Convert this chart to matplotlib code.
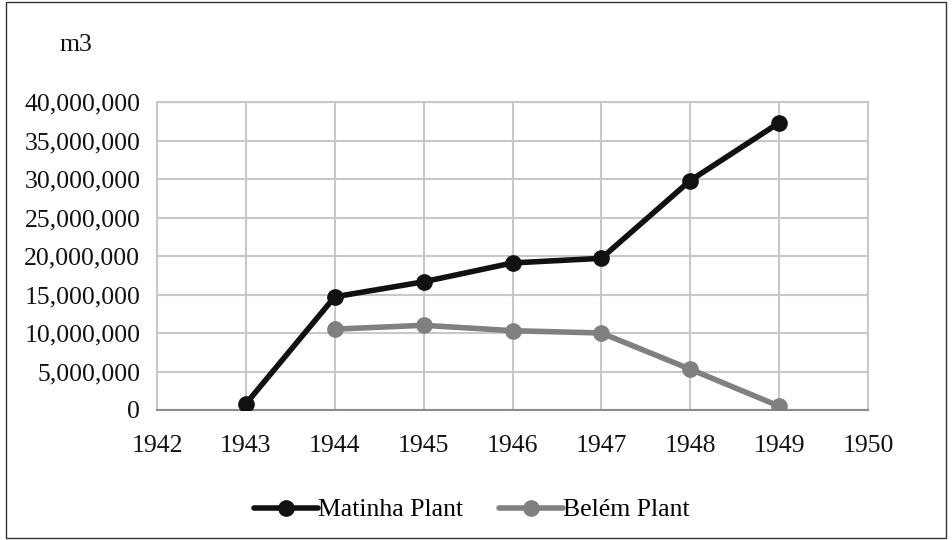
import matplotlib
matplotlib.use("Agg")
import matplotlib.pyplot as plt
from matplotlib.ticker import FuncFormatter, MultipleLocator
from matplotlib.patches import Rectangle

years_matinha = [1943, 1944, 1945, 1946, 1947, 1948, 1949]
matinha = [800000, 14700000, 16650000, 19100000, 19700000, 29800000, 37300000]
years_belem = [1944, 1945, 1946, 1947, 1948, 1949]
belem = [10500000, 11000000, 10300000, 10000000, 5300000, 500000]

plt.rcParams['font.family'] = ['Liberation Serif', 'DejaVu Serif']

fig = plt.figure(figsize=(9.52, 5.4), dpi=100)
fig.patches.append(Rectangle((0.006, 0.004), 0.988, 0.992, transform=fig.transFigure,
                             fill=False, edgecolor='#333333', linewidth=1.0))
ax = fig.add_axes([157/952, 1 - 410/540, (868-157)/952, (410-102)/540])

ax.plot(years_matinha, matinha, color='#111111', linewidth=4.0, marker='o',
        markersize=11, label='Matinha Plant', solid_capstyle='round', zorder=3)
ax.plot(years_belem, belem, color='#808080', linewidth=4.0, marker='o',
        markersize=11, label='Belém Plant', solid_capstyle='round', zorder=3)

ax.set_xlim(1942, 1950)
ax.set_ylim(0, 40000000)
ax.xaxis.set_major_locator(MultipleLocator(1))
ax.yaxis.set_major_locator(MultipleLocator(5000000))
ax.yaxis.set_major_formatter(FuncFormatter(lambda v, p: f"{int(v):,}"))
ax.grid(True, color='#c8c8c8', linewidth=1.5)
ax.set_axisbelow(True)
for s in ['top', 'right', 'left']:
    ax.spines[s].set_color('#c8c8c8')
    ax.spines[s].set_linewidth(1.5)
ax.spines['bottom'].set_color('#8c8c8c')
ax.spines['bottom'].set_linewidth(1.5)
ax.tick_params(axis='both', length=0, labelsize=18.5, colors='#111111')
ax.tick_params(axis='x', pad=18)
ax.tick_params(axis='y', pad=12)

fig.text(60/952, 1 - 45/540, 'm3', fontsize=18.5, va='center', ha='left', color='#111111')

leg = fig.legend(loc='center', bbox_to_anchor=(472/952, 1 - 510/540), ncol=2,
                 frameon=False, fontsize=18.5, handlelength=2.5, handletextpad=0.0,
                 columnspacing=1.4, markerscale=1.0)

fig.savefig('out.png', dpi=100)
